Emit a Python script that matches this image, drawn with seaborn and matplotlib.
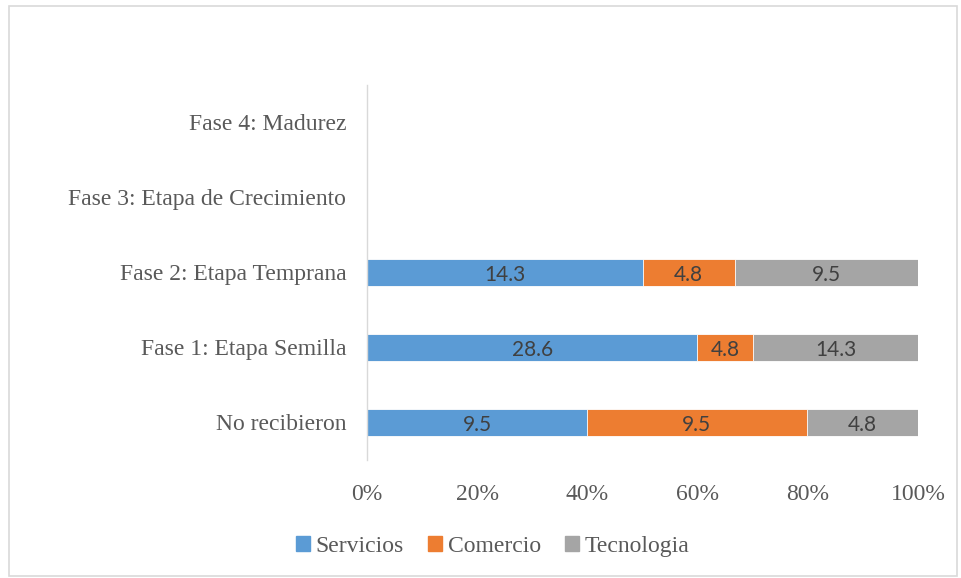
import numpy as np
import pandas as pd
import seaborn as sns
import matplotlib.pyplot as plt
from matplotlib.patches import Rectangle

# data
fases = ['Fase 4: Madurez', 'Fase 3: Etapa de Crecimiento', 'Fase 2: Etapa Temprana',
         'Fase 1: Etapa Semilla', 'No recibieron']
servicios = [0, 0, 14.3, 28.6, 9.5]
comercio = [0, 0, 4.8, 4.8, 9.5]
tecnologia = [0, 0, 9.5, 14.3, 4.8]

series = ['Servicios', 'Comercio', 'Tecnologia']
colores = ['#5B9BD5', '#ED7D31', '#A5A5A5']

df = pd.DataFrame({'fase': fases, 'Servicios': servicios,
                   'Comercio': comercio, 'Tecnologia': tecnologia})
total = df[series].sum(axis=1)
for s in series:
    df[s + '_pct'] = np.where(total > 0, df[s] / total.replace(0, 1) * 100, 0)

# acumulados para apilar
df['cum1'] = df['Servicios_pct']
df['cum2'] = df['cum1'] + df['Comercio_pct']
df['cum3'] = df['cum2'] + df['Tecnologia_pct']

sns.set_style('white')
plt.rcParams['font.family'] = ['Liberation Serif', 'DejaVu Serif']

fig = plt.figure(figsize=(9.62, 5.78), dpi=100)
ax = fig.add_axes([0.3815, 0.2042, 0.5728, 0.6488])

# de mayor a menor para que se vea apilado
for col, c in zip(['cum3', 'cum2', 'cum1'], colores[::-1]):
    sns.barplot(data=df, y='fase', x=col, order=fases, color=c, width=0.35,
                orient='h', edgecolor='white', linewidth=0.6, ax=ax, saturation=1)

# etiquetas
for i, row in df.iterrows():
    start = 0
    for s in series:
        w = row[s + '_pct']
        if row[s] > 0:
            ax.text(start + w / 2, fases.index(row['fase']) + 0.03, f"{row[s]:.1f}",
                    ha='center', va='center', fontsize=15, color='#404040',
                    family='Lato')
        start += w

ax.set_xlim(0, 100)
ax.set_ylim(4.5, -0.5)
ax.set_xticks([0, 20, 40, 60, 80, 100])
ax.set_xticklabels([f'{v}%' for v in [0, 20, 40, 60, 80, 100]])
ax.tick_params(axis='both', length=0, labelsize=17, labelcolor='#595959')
ax.tick_params(axis='x', pad=17)
ax.tick_params(axis='y', pad=15)
ax.set_xlabel('')
ax.set_ylabel('')
for sp in ['top', 'right', 'bottom']:
    ax.spines[sp].set_visible(False)
ax.spines['left'].set_color('#D9D9D9')
ax.spines['left'].set_linewidth(1)

handles = [Rectangle((0, 0), 1, 1, color=c) for c in colores]
fig.legend(handles, series, loc='center', bbox_to_anchor=(0.512, 0.055), ncol=3,
           frameon=False, fontsize=17, handlelength=0.6, handleheight=0.6,
           handletextpad=0.25, columnspacing=1.0, labelcolor='#595959')

# marco exterior
fig.patches.append(Rectangle((9 / 962, 0.003), 948 / 962, 1 - 6 / 578 - 0.003,
                             transform=fig.transFigure, fill=False,
                             edgecolor='#D9D9D9', linewidth=1.2))

fig.savefig('out.png', dpi=100)
